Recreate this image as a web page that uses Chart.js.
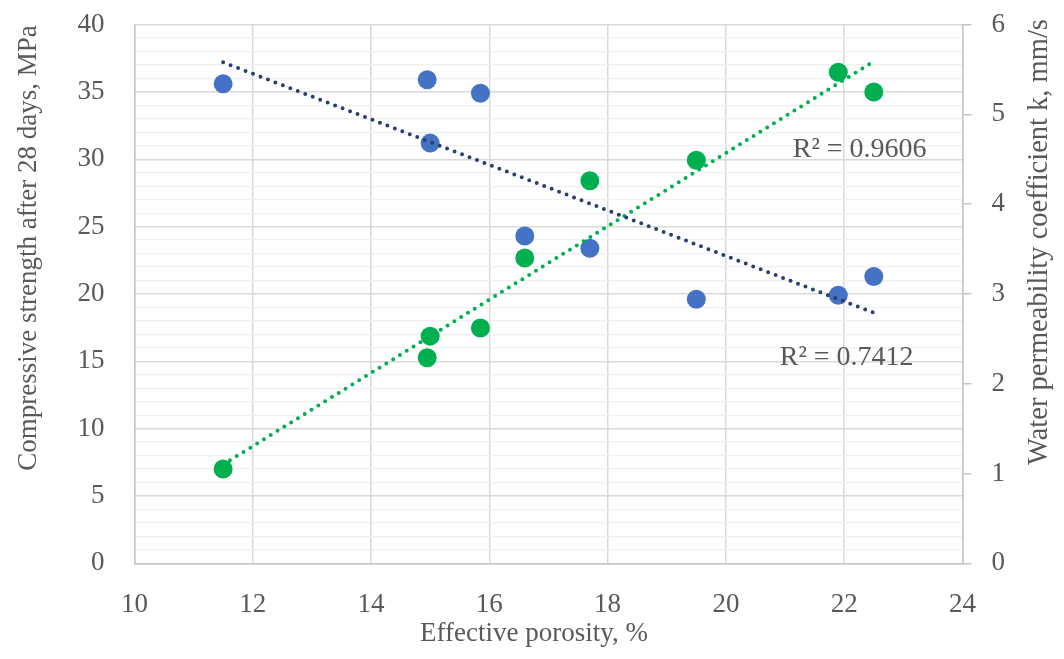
<!DOCTYPE html>
<html lang="en">
<head>
    <meta charset="UTF-8">
    <title>Porosity vs strength and permeability</title>
    <style>
        body { margin: 0; background: #fff; }
        #wrap { width: 1064px; height: 659px; position: relative; }
    </style>
</head>
<body>
    <div id="wrap">
        <canvas id="porosityChart"></canvas>
    </div>

    <script src="https://cdn.jsdelivr.net/npm/chart.js"></script>
    <script>
        // values
        const porosity = [11.5, 14.95, 15.0, 15.85, 16.6, 17.7, 19.5, 21.9, 22.5];
        const strength = [35.6, 35.9, 31.2, 34.9, 24.3, 23.4, 19.6, 19.9, 21.3];
        const permPorosity = [11.5, 14.95, 15.0, 15.85, 16.6, 17.7, 19.5, 21.9, 22.5];
        const permeability = [1.05, 2.29, 2.53, 2.62, 3.40, 4.26, 4.49, 5.47, 5.25];

        // trendline end points (as drawn in the figure)
        const trendX = [11.5, 22.5];
        const strengthTrend = [37.2, 18.6];
        const permTrend = [1.10, 5.59];

        const xTicks = [10, 12, 14, 16, 18, 20, 22, 24];
        const leftTicks = [0, 5, 10, 15, 20, 25, 30, 35, 40];
        const rightTicks = [0, 1, 2, 3, 4, 5, 6];

        const r2Labels = [
            { text: 'R² = 0.9606', x: 21.13, y: 30.17 },
            { text: 'R² = 0.7412', x: 20.91, y: 14.72 }
        ];

        const xTitle = 'Effective porosity, %';
        const yTitle = 'Compressive strength after 28 days, MPa';
        const y2Title = 'Water permeability coefficient k, mm/s';

        const FONT = "'Liberation Serif', 'Times New Roman', serif";
        const TEXT = '#595959';
        const BLUE = '#4472C4';
        const GREEN = '#00B050';
        const NAVY = '#2b3f73';

        const pts = (xs, ys) => xs.map((x, i) => ({ x: x, y: ys[i] }));

        // axis titles and R² texts
        const textPlugin = {
            id: 'textPlugin',
            afterDraw(chart) {
                const ctx = chart.ctx;
                const xs = chart.scales.x, ys = chart.scales.y;
                ctx.save();
                ctx.fillStyle = TEXT;
                ctx.font = '27px ' + FONT;
                ctx.textAlign = 'center';
                ctx.textBaseline = 'middle';
                ctx.fillText(xTitle, 534, 634);

                ctx.save();
                ctx.translate(29, 248);
                ctx.rotate(-Math.PI / 2);
                ctx.fillText(yTitle, 0, 0);
                ctx.restore();

                ctx.font = '28.5px ' + FONT;
                ctx.save();
                ctx.translate(1040, 242);
                ctx.rotate(-Math.PI / 2);
                ctx.fillText(y2Title, 0, 0);
                ctx.restore();

                ctx.font = '28px ' + FONT;
                ctx.textAlign = 'left';
                ctx.textBaseline = 'alphabetic';
                r2Labels.forEach(l => {
                    ctx.fillText(l.text, xs.getPixelForValue(l.x), ys.getPixelForValue(l.y));
                });
                ctx.restore();
            }
        };

        // keep the tick padding from pushing the plot area down
        const noPad = s => { s.paddingTop = 0; s.paddingBottom = 0; };

        new Chart(document.getElementById('porosityChart'), {
            type: 'scatter',
            data: {
                datasets: [
                    {
                        type: 'line',
                        label: 'Strength trend',
                        data: pts(trendX, strengthTrend),
                        yAxisID: 'y',
                        borderColor: NAVY,
                        borderWidth: 4,
                        borderDash: [0, 8],
                        borderCapStyle: 'round',
                        pointRadius: 0,
                        fill: false,
                        order: 0
                    },
                    {
                        type: 'line',
                        label: 'Permeability trend',
                        data: pts(trendX, permTrend),
                        yAxisID: 'y2',
                        borderColor: GREEN,
                        borderWidth: 4,
                        borderDash: [0, 8],
                        borderCapStyle: 'round',
                        pointRadius: 0,
                        fill: false,
                        order: 0
                    },
                    {
                        label: 'Compressive strength',
                        data: pts(porosity, strength),
                        yAxisID: 'y',
                        backgroundColor: BLUE,
                        borderWidth: 0,
                        pointRadius: 9.5,
                        order: 2
                    },
                    {
                        label: 'Water permeability',
                        data: pts(permPorosity, permeability),
                        yAxisID: 'y2',
                        backgroundColor: GREEN,
                        borderWidth: 0,
                        pointRadius: 9.5,
                        order: 1
                    }
                ]
            },
            options: {
                responsive: true,
                maintainAspectRatio: false,
                animation: false,
                layout: { padding: { top: 24.6, left: 0, right: 0, bottom: 0 } },
                plugins: {
                    legend: { display: false },
                    tooltip: { enabled: false }
                },
                scales: {
                    x: {
                        type: 'linear',
                        min: 10,
                        max: 24,
                        afterBuildTicks: s => { s.ticks = xTicks.map(v => ({ value: v })); },
                        afterFit: s => { s.height = 659 - 563.3; },
                        grid: { color: '#d9d9d9', lineWidth: 1.5, drawTicks: false },
                        border: { display: true, color: '#c4c4c4', width: 1.5 },
                        ticks: { color: TEXT, font: { family: FONT, size: 27 }, padding: 25 }
                    },
                    y: {
                        position: 'left',
                        min: 0,
                        max: 40,
                        afterBuildTicks: s => {
                            const t = [];
                            for (let v = 0; v <= 40; v++) t.push({ value: v });
                            s.ticks = t;
                        },
                        afterFit: s => { s.width = 134.4; noPad(s); },
                        grid: {
                            drawTicks: false,
                            color: c => (c.tick && c.tick.value % 5 === 0) ? '#d9d9d9' : '#f0f0f0',
                            lineWidth: c => (c.tick && c.tick.value % 5 === 0) ? 1.5 : 1.2
                        },
                        border: { display: true, color: '#c4c4c4', width: 1.5 },
                        ticks: {
                            autoSkip: false,
                            color: TEXT,
                            font: { family: FONT, size: 27 },
                            padding: 30,
                            callback: v => leftTicks.includes(v) ? String(v) : ''
                        }
                    },
                    y2: {
                        position: 'right',
                        min: 0,
                        max: 6,
                        afterBuildTicks: s => { s.ticks = rightTicks.map(v => ({ value: v })); },
                        afterFit: s => { s.width = 1064 - 962.5; noPad(s); },
                        grid: { drawOnChartArea: false, drawTicks: true, tickLength: 9, color: '#c4c4c4', lineWidth: 1.5 },
                        border: { display: true, color: '#c4c4c4', width: 1.5 },
                        ticks: { color: TEXT, font: { family: FONT, size: 27 }, padding: 20 }
                    }
                }
            },
            plugins: [textPlugin]
        });
    </script>
</body>
</html>
